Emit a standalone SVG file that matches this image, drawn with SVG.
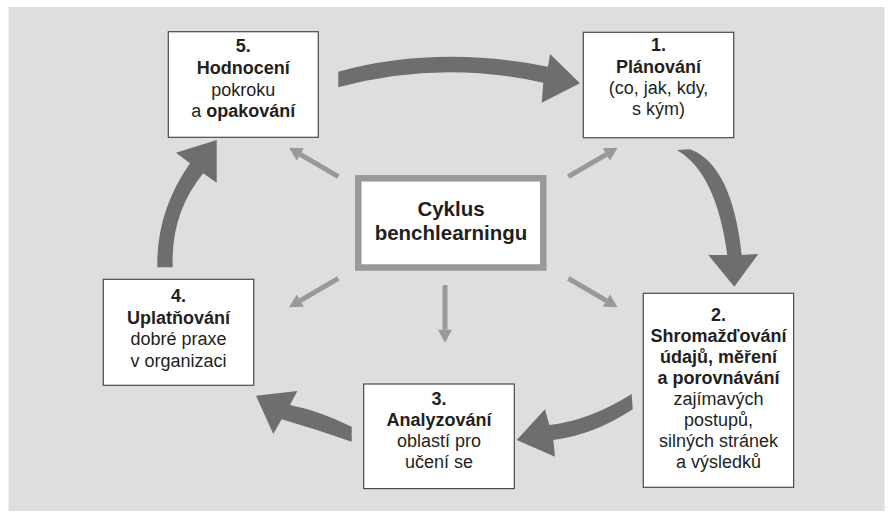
<svg xmlns="http://www.w3.org/2000/svg" width="894" height="517" viewBox="0 0 894 517">
<style>
.box{fill:#ffffff;stroke:#4a4a4a;stroke-width:1.2}
.center{fill:#ffffff;stroke:#999999;stroke-width:6.5}
.big{fill:#6f6e6c}
.thin{stroke:#999999;stroke-width:5;fill:none}
text{font-family:"Liberation Sans",Arial,sans-serif;font-size:18px;fill:#231f20;text-anchor:middle}
.b{font-weight:bold}
.c{font-size:20.5px;font-weight:bold}
</style>
<defs>
<marker id="ah" viewBox="0 -7 13 14" markerWidth="13" markerHeight="14" refX="0" refY="0" orient="auto" markerUnits="userSpaceOnUse" overflow="visible">
<path d="M0,-7 L13,0 L0,7 Z" fill="#999999"/>
</marker>
</defs>
<rect x="8.5" y="7" width="876" height="504" fill="#dedede"/>
<g id="connectors">
<path class="big" d="M338.3,71.7 Q437,44.8 548,66.7 L550,54 L580,83.3 L541.7,102.7 L543.3,82.7 Q439,59.6 338.3,87.3 Z"/>
<path class="big" d="M676.7,150 Q716,172 727.3,255 L708.3,255 L734.3,286.7 L758.3,254 L741.7,255 Q732,165 690,149.3 Z"/>
<path class="big" d="M631.7,394 Q589.5,420.5 549.3,425 L545,409.3 L516.7,440 L555,456.7 L553.3,440 Q593,435.3 632.7,409.3 Z"/>
<path class="big" d="M351.7,426.7 Q319.2,410.8 290,405 L297.3,391 L256,395.7 L273.3,434 L281.7,419.3 Q316.7,429.5 351.7,441.7 Z"/>
<path class="big" d="M157.3,267.3 Q156.3,211.3 190,163.3 L176,152.7 L216.7,140 L216.7,182.7 L203.3,173.3 Q170.6,213.1 172.7,267.3 Z"/>
<line class="thin" x1="338.3" y1="176.7" x2="300.3" y2="154.4" marker-end="url(#ah)"/>
<line class="thin" x1="568.3" y1="176.7" x2="606.4" y2="154.4" marker-end="url(#ah)"/>
<line class="thin" x1="338.3" y1="278.3" x2="300.3" y2="300.6" marker-end="url(#ah)"/>
<line class="thin" x1="445" y1="285" x2="445" y2="329.7" marker-end="url(#ah)"/>
<line class="thin" x1="568.3" y1="278.3" x2="606.4" y2="300.6" marker-end="url(#ah)"/>
</g>
<g id="center">
<rect class="center" x="358.3" y="178.3" width="185" height="89.2"/>
<text class="c" x="451" y="216">Cyklus</text>
<text class="c" x="451" y="240">benchlearningu</text>
</g>
<g id="step5">
<rect class="box" x="168.3" y="31.7" width="150" height="105.6"/>
<text class="b" x="243.3" y="52">5.</text>
<text class="b" x="243.3" y="74">Hodnocení</text>
<text x="243.3" y="95.5">pokroku</text>
<text x="243.3" y="117">a <tspan class="b">opakování</tspan></text>
</g>
<g id="step1">
<rect class="box" x="583.3" y="32.3" width="150.4" height="105.4"/>
<text class="b" x="658.5" y="51">1.</text>
<text class="b" x="658.5" y="73">Plánování</text>
<text x="658.5" y="94">(co, jak, kdy,</text>
<text x="658.5" y="115">s kým)</text>
</g>
<g id="step2">
<rect class="box" x="643.3" y="293.3" width="150.3" height="194"/>
<text class="b" x="718.5" y="321">2.</text>
<text class="b" x="718.5" y="342">Shromažďování</text>
<text class="b" x="718.5" y="363">údajů, měření</text>
<text class="b" x="718.5" y="384">a porovnávání</text>
<text x="718.5" y="405">zajímavých</text>
<text x="718.5" y="426">postupů,</text>
<text x="718.5" y="447">silných stránek</text>
<text x="718.5" y="468">a výsledků</text>
</g>
<g id="step3">
<rect class="box" x="363.7" y="384" width="150.6" height="104.6"/>
<text class="b" x="439" y="405">3.</text>
<text class="b" x="439" y="426">Analyzování</text>
<text x="439" y="447">oblastí pro</text>
<text x="439" y="468">učení se</text>
</g>
<g id="step4">
<rect class="box" x="103.3" y="279.3" width="150.4" height="106"/>
<text class="b" x="178.5" y="302">4.</text>
<text class="b" x="178.5" y="323.5">Uplatňování</text>
<text x="178.5" y="345">dobré praxe</text>
<text x="178.5" y="366.5">v organizaci</text>
</g>
</svg>
